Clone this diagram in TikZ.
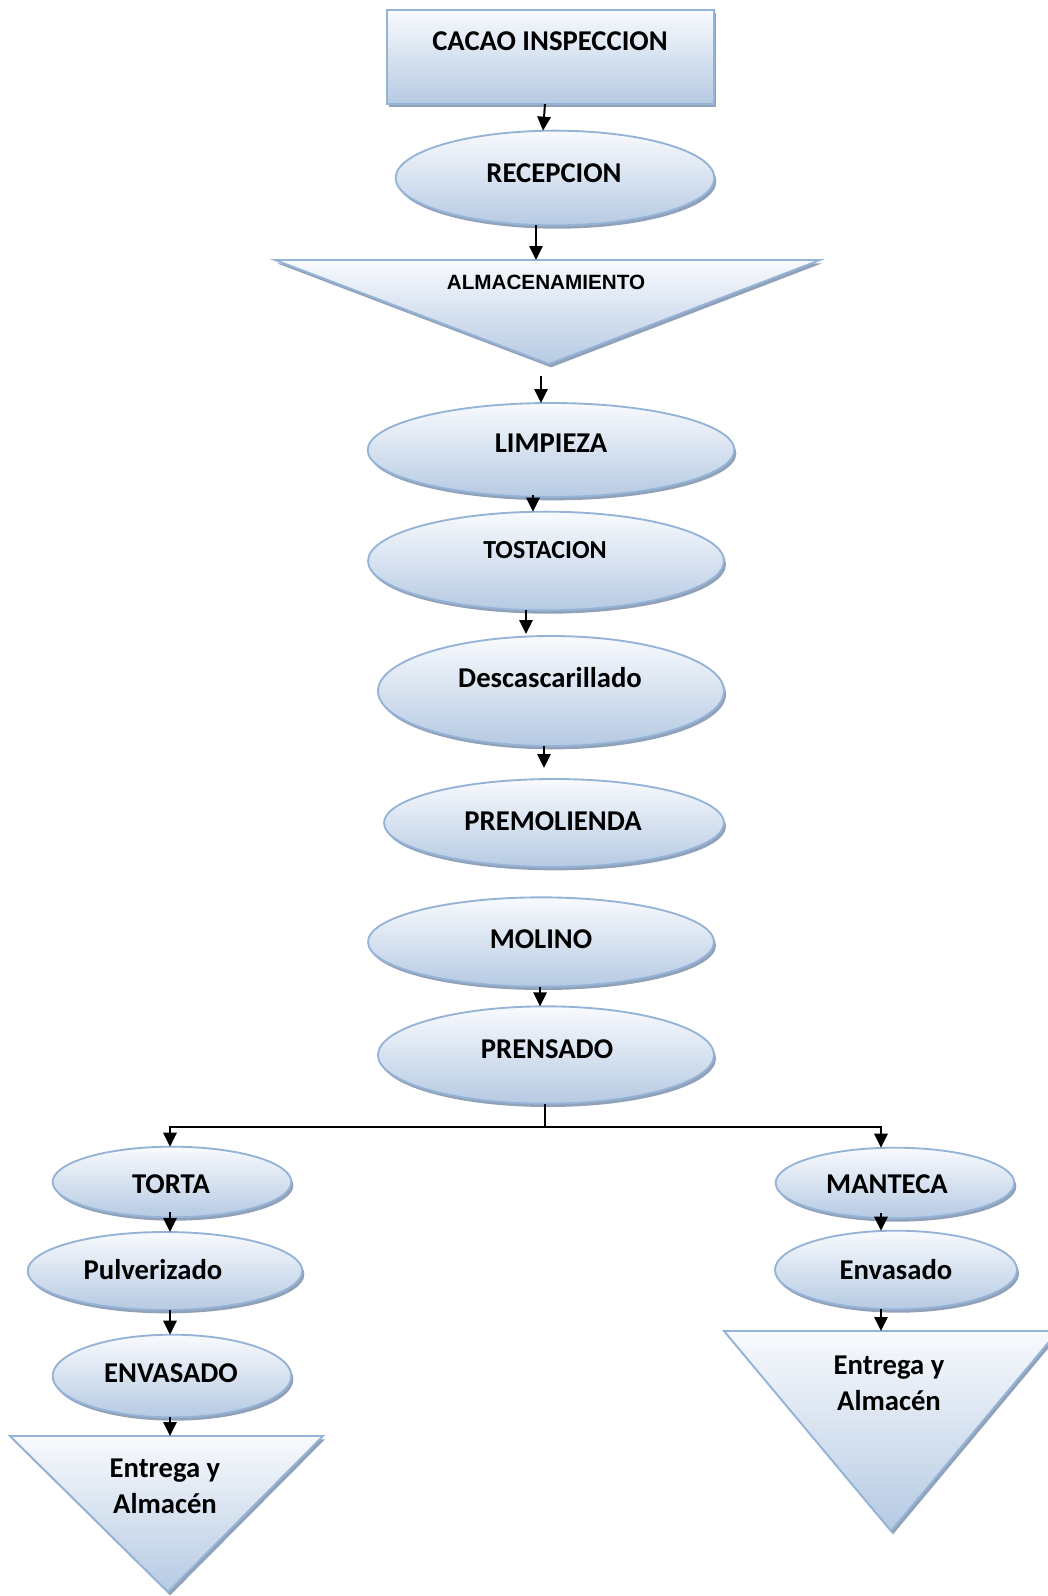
\documentclass[tikz,border=0pt]{standalone}
\usepackage{fontspec}
\setmainfont{Carlito}
\newfontfamily\arialfont{Liberation Sans}
\usetikzlibrary{shapes.geometric,shadows,arrows.meta,calc}
\definecolor{edgeblue}{HTML}{95B3D7}
\definecolor{topfill}{HTML}{F8FAFD}
\definecolor{botfill}{HTML}{B6CAE3}
\definecolor{shadecol}{HTML}{7C90AC}
\begin{document}
\begin{tikzpicture}[x=0.75pt,y=-0.75pt,
  shp/.style={draw=edgeblue, line width=1.4pt, top color=topfill, bottom color=botfill,
    drop shadow={shadow xshift=1.5pt, shadow yshift=-2.5pt, fill=shadecol, opacity=0.85}},
  proc/.style={shp, ellipse, inner sep=0pt, outer sep=0pt},
  txt/.style={font=\bfseries\fontsize{21.5}{27}\selectfont, inner sep=0pt, align=center},
  arr/.style={-{Triangle[length=10.5pt,width=10pt]}, line width=1.5pt, black}]
\useasboundingbox (0,0) rectangle (1048,1596);

% start box
\node[shp, rectangle, minimum width=245pt, minimum height=70.5pt, inner sep=0pt, outer sep=0pt] (cacao) at (550.5,57) {};
\node[txt] (tcacao) at (550,41) {CACAO INSPECCION};

% main column
\node[proc, minimum width=239pt, minimum height=71pt] (rec) at (555,178) {};
\node[txt] (trec) at (554,173) {RECEPCION};

\path[shp] (275,260) -- (820,260) -- (549,364) -- cycle;
\coordinate (almtop) at (547.5,260);
\coordinate (almtip) at (549,364);
\node[font=\arialfont\bfseries\fontsize{15.5}{18}\selectfont, inner sep=0pt] (talm) at (546,282) {ALMACENAMIENTO};

\node[proc, minimum width=275pt, minimum height=70.5pt] (lim) at (551,450) {};
\node[txt] (tlim) at (551,443) {LIMPIEZA};

\node[proc, minimum width=267pt, minimum height=74pt] (tos) at (546,561) {};
\node[txt, font=\bfseries\fontsize{19.5}{24}\selectfont] (ttos) at (545,550) {TOSTACION};

\node[proc, minimum width=259.5pt, minimum height=82.5pt] (des) at (551,691) {};
\node[txt] (tdes) at (550,678) {Descascarillado};

\node[proc, minimum width=255pt, minimum height=66pt] (pre) at (554,823) {};
\node[txt] (tpre) at (553,821) {PREMOLIENDA};

\node[proc, minimum width=259.5pt, minimum height=67pt] (mol) at (541,942) {};
\node[txt] (tmol) at (541,939) {MOLINO};

\node[proc, minimum width=252pt, minimum height=73pt] (prs) at (546,1055) {};
\node[txt] (tprs) at (547,1049) {PRENSADO};

% left branch
\node[proc, minimum width=179pt, minimum height=53pt] (tor) at (172,1182) {};
\node[txt] (ttor) at (171,1184) {TORTA};

\node[proc, minimum width=206pt, minimum height=58.5pt] (pul) at (165,1271) {};
\node[txt] (tpul) at (153,1270) {Pulverizado};

\node[proc, minimum width=179pt, minimum height=62pt] (env) at (172,1376) {};
\node[txt] (tenv) at (171,1373) {ENVASADO};

\path[shp] (10,1436) -- (323,1436) -- (168,1592) -- cycle;
\coordinate (lefttop) at (166.5,1436);
\node[txt] (tleft) at (165,1486) {Entrega y\\Almacén};

% right branch
\node[proc, minimum width=179pt, minimum height=53pt] (man) at (895,1183) {};
\node[txt] (tman) at (887,1184) {MANTECA};

\node[proc, minimum width=181.5pt, minimum height=59pt] (env2) at (896,1270) {};
\node[txt] (tenv2) at (896,1270) {Envasado};

\path[shp] (724,1331) -- (1058,1331) -- (891,1531) -- cycle;
\coordinate (righttop) at (891,1331);
\node[txt] (tright) at (889,1383) {Entrega y\\Almacén};

% connectors
\draw[arr] ($(cacao.south)+(-5.5,0)$) -- ($(rec.north)+(-12,0)$);
\draw[arr] ($(rec.south)+(-19,0)$) -- ($(almtop)+(-11.5,0)$);
\draw[arr] ($(almtip)+(-8,12)$) -- ($(lim.north)+(-10,0)$);
\draw[arr] ($(lim.south)+(-18,-2)$) -- ($(tos.north)+(-13,0)$);
\draw[arr] ($(tos.south)+(-20,0)$) -- ($(des.north)+(-25,-2)$);
\draw[arr] ($(des.south)+(-7,0)$) -- ($(pre.north)+(-10,-11)$);
\draw[arr] ($(mol.south)+(-1,0)$) -- ($(prs.north)+(-6,0)$);

% split below the press
\coordinate (split) at ($(prs.south)+(-1,23)$);
\draw[line width=1.5pt] (prs.south -| split) -- (split);
\draw[arr] (split) -| ($(tor.north)+(-2,0)$);
\draw[arr] (split) -| ($(man.north)+(-14,0)$);

\draw[arr] ($(tor.south)+(-2,-5)$) -- ($(pul.north)+(5,0)$);
\draw[arr] ($(pul.south)+(5,0)$) -- ($(env.north)+(-2,0)$);
\draw[arr] ($(env.south)+(-2,0)$) -- ($(lefttop)+(3.5,0)$);
\draw[arr] ($(man.south)+(-14,-5)$) -- ($(env2.north)+(-15,0)$);
\draw[arr] ($(env2.south)+(-15,0)$) -- ($(righttop)+(-10,0)$);
\end{tikzpicture}
\end{document}
